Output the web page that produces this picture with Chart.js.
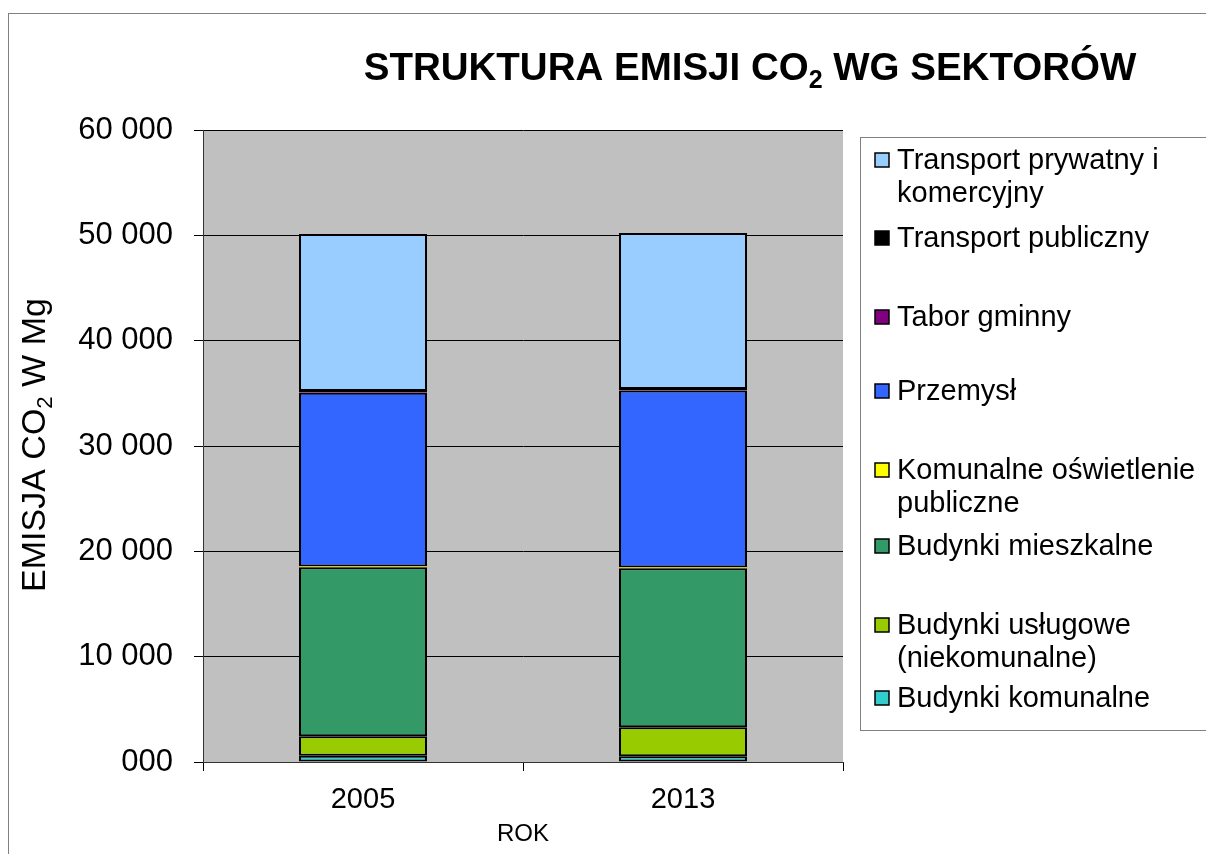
<!DOCTYPE html>
<html>
<head>
<meta charset="utf-8">
<script src="https://cdn.jsdelivr.net/npm/chart.js@4/dist/chart.umd.min.js"></script>
<style>
  html, body { margin: 0; padding: 0; background: #fff; }
  #wrap { width: 1206px; height: 854px; }
</style>
</head>
<body>
<div id="wrap"><canvas id="chart" width="1206" height="854"></canvas></div>
<script>
// data (Mg CO2)
const years = ["2005", "2013"];
const sectors = [
  "Budynki komunalne",
  "Budynki usługowe (niekomunalne)",
  "Budynki mieszkalne",
  "Komunalne oświetlenie publiczne",
  "Przemysł",
  "Tabor gminny",
  "Transport publiczny",
  "Transport prywatny i komercyjny"
];
const komunalne = [600, 550];
const uslugowe = [1850, 2750];
const mieszkalne = [16050, 15100];
const oswietlenie = [60, 60];
const przemysl = [16500, 16800];
const tabor = [40, 40];
const publiczny = [120, 120];
const prywatny = [14900, 14800];
const yTicks = [0, 10000, 20000, 30000, 40000, 50000, 60000];

const colors = ["#33cccc", "#99cc00", "#339966", "#ffff00", "#3366ff", "#800080", "#000000", "#99ccff"];
const seriesValues = [komunalne, uslugowe, mieszkalne, oswietlenie, przemysl, tabor, publiczny, prywatny];

// legend wrapping like the original (lines per entry)
const legendLines = {
  "Transport prywatny i komercyjny": ["Transport prywatny i", "komercyjny"],
  "Komunalne oświetlenie publiczne": ["Komunalne oświetlenie", "publiczne"],
  "Budynki usługowe (niekomunalne)": ["Budynki usługowe", "(niekomunalne)"]
};

const FONT = "'Liberation Sans', Arial, sans-serif";

function fmt(v) {
  if (v === 0) return "000";
  return String(v).replace(/\B(?=(\d{3})+(?!\d))/g, " ");
}

// draws text with a subscript "2" after "CO"
function drawSub(ctx, parts, x, y, size, bold, align) {
  const f = (s) => (bold ? "bold " : "") + s + "px " + FONT;
  let total = 0;
  parts.forEach(p => {
    ctx.font = f(p.sub ? size * 0.65 : size);
    p.w = ctx.measureText(p.t).width;
    total += p.w;
  });
  let cx = align === "center" ? x - total / 2 : x;
  ctx.textAlign = "left";
  ctx.textBaseline = "alphabetic";
  parts.forEach(p => {
    ctx.font = f(p.sub ? size * 0.65 : size);
    ctx.fillText(p.t, cx, p.sub ? y + size * 0.22 : y);
    cx += p.w;
  });
}

const decor = {
  id: "decor",
  beforeDraw(chart) {
    const { ctx, chartArea: a } = chart;
    ctx.save();
    ctx.fillStyle = "#fff";
    ctx.fillRect(0, 0, chart.width, chart.height);
    ctx.fillStyle = "#c0c0c0";
    ctx.fillRect(a.left, a.top, a.right - a.left, a.bottom - a.top);
    ctx.restore();
  },
  afterDraw(chart) {
    const { ctx } = chart;
    ctx.save();
    // outer frame
    ctx.strokeStyle = "#808080";
    ctx.lineWidth = 1;
    ctx.strokeRect(8.5, 13.5, 1300, 900);

    ctx.fillStyle = "#000";
    // title
    drawSub(ctx, [{ t: "STRUKTURA EMISJI CO" }, { t: "2", sub: true }, { t: " WG SEKTORÓW" }], 750, 80, 38.5, true, "center");

    // axis titles
    drawSub(ctx, [{ t: "ROK" }], 523, 841, 24, false, "center");
    ctx.save();
    ctx.translate(45, 445);
    ctx.rotate(-Math.PI / 2);
    drawSub(ctx, [{ t: "EMISJA CO" }, { t: "2", sub: true }, { t: " W Mg" }], 0, 0, 34, false, "center");
    ctx.restore();

    // legend box
    ctx.strokeStyle = "#808080";
    ctx.strokeRect(860.5, 137.5, 400, 593);
    const slots = [698, 625, 546, 470, 391, 317, 238, 160];
    chart.data.datasets.forEach((ds, i) => {
      const y = slots[i];
      ctx.fillStyle = ds.backgroundColor;
      ctx.fillRect(875, y - 7, 14, 14);
      ctx.strokeStyle = "#000";
      ctx.lineWidth = 1.5;
      ctx.strokeRect(875, y - 7, 14, 14);
      ctx.fillStyle = "#000";
      ctx.font = "29px " + FONT;
      ctx.textAlign = "left";
      ctx.textBaseline = "middle";
      const lines = legendLines[ds.label] || [ds.label];
      lines.forEach((ln, k) => ctx.fillText(ln, 897, y + 1 + k * 33));
    });
    ctx.restore();
  }
};

const ctx = document.getElementById("chart").getContext("2d");
new Chart(ctx, {
  type: "bar",
  data: {
    labels: years,
    datasets: sectors.map((s, i) => ({
      label: s,
      data: seriesValues[i],
      backgroundColor: colors[i],
      borderColor: "#000",
      // the tiny slices would only leave gaps between borders
      borderWidth: (s === "Tabor gminny" || s.startsWith("Komunalne")) ? 0 : 2,
      borderSkipped: false,
      barPercentage: 0.4,
      categoryPercentage: 1.0
    }))
  },
  options: {
    responsive: false,
    animation: false,
    devicePixelRatio: 1,
    layout: { padding: { top: 130, right: 363, left: 0, bottom: 0 } },
    plugins: {
      legend: { display: false },
      title: { display: false },
      tooltip: { enabled: false }
    },
    scales: {
      x: {
        stacked: true,
        grid: { offset: true, drawOnChartArea: false, tickLength: 9, color: "#000" },
        border: { color: "#333" },
        ticks: { color: "#000", font: { family: FONT, size: 29 }, padding: 12 },
        afterFit: s => { s.height = 92; }
      },
      y: {
        stacked: true,
        min: 0,
        max: 60000,
        afterBuildTicks: s => { s.ticks = yTicks.map(v => ({ value: v })); },
        grid: { color: "#000", tickLength: 9 },
        border: { color: "#333" },
        ticks: {
          color: "#000",
          font: { family: FONT, size: 31 },
          padding: 21,
          callback: v => fmt(v)
        },
        afterFit: s => { s.width = 203; }
      }
    }
  },
  plugins: [decor]
});
</script>
</body>
</html>
